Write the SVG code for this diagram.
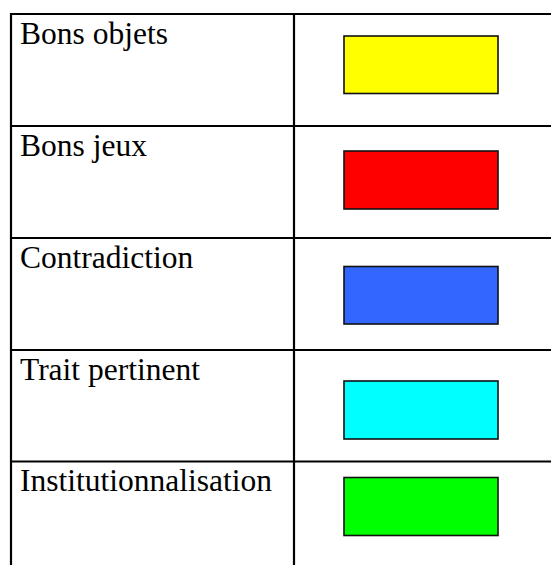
<svg xmlns="http://www.w3.org/2000/svg" width="551" height="565" viewBox="0 0 551 565">
<style>
.grid{stroke:#000;stroke-width:2.2;fill:none}
.lbl{font-family:"Liberation Serif","Times New Roman",serif;font-size:31.5px;fill:#000}
.sw{stroke:#111;stroke-width:1.6}
</style>
<rect width="551" height="565" fill="#fff"/>
<g id="grid">
<line class="grid" x1="11" y1="14" x2="551" y2="14"/>
<line class="grid" x1="11" y1="126" x2="551" y2="126"/>
<line class="grid" x1="11" y1="238" x2="551" y2="238"/>
<line class="grid" x1="11" y1="350" x2="551" y2="350"/>
<line class="grid" x1="11" y1="461.5" x2="551" y2="461.5"/>
<line class="grid" x1="11" y1="13" x2="11" y2="565"/>
<line class="grid" x1="294" y1="13" x2="294" y2="565"/>
</g>
<g id="row-bons-objets">
<text class="lbl" x="20" y="44">Bons objets</text>
<rect class="sw" x="344" y="36" width="154" height="57.5" fill="#ffff00"/>
</g>
<g id="row-bons-jeux">
<text class="lbl" x="20" y="156">Bons jeux</text>
<rect class="sw" x="344" y="151" width="154" height="58" fill="#ff0000"/>
</g>
<g id="row-contradiction">
<text class="lbl" x="20" y="268">Contradiction</text>
<rect class="sw" x="344" y="266.5" width="154" height="57.5" fill="#3366ff"/>
</g>
<g id="row-trait-pertinent">
<text class="lbl" x="20" y="380">Trait pertinent</text>
<rect class="sw" x="344" y="381" width="154" height="58" fill="#00ffff"/>
</g>
<g id="row-institutionnalisation">
<text class="lbl" x="20" y="491">Institutionnalisation</text>
<rect class="sw" x="344" y="477.5" width="154" height="58" fill="#00ff00"/>
</g>
</svg>
